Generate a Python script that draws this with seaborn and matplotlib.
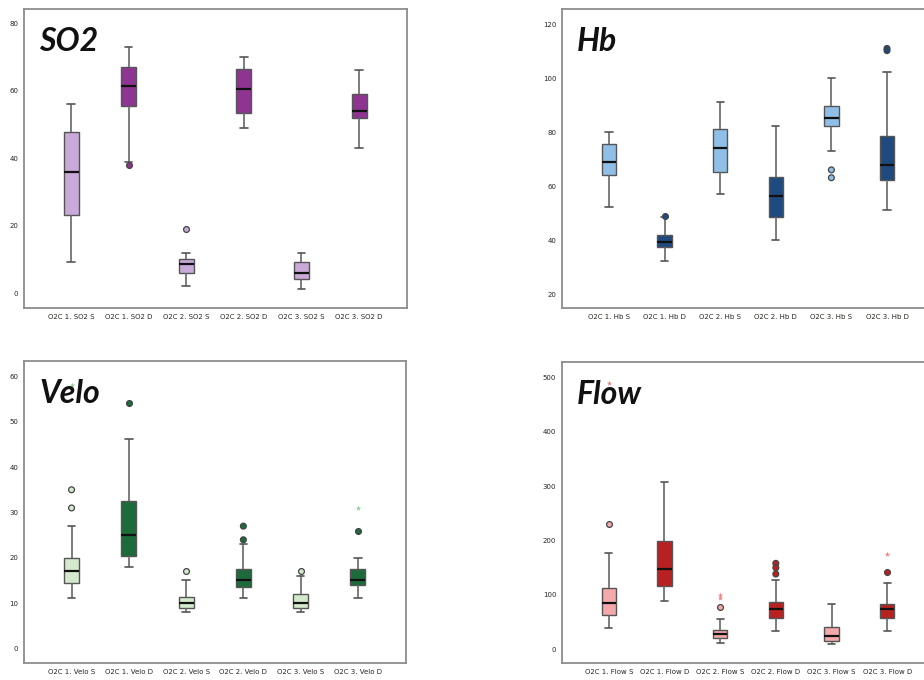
import matplotlib
matplotlib.use("Agg")
import matplotlib.pyplot as plt
import seaborn as sns
import pandas as pd

# ---------------- data ----------------
so2_cats = ["O2C 1. SO2 S", "O2C 1. SO2 D", "O2C 2. SO2 S", "O2C 2. SO2 D", "O2C 3. SO2 S", "O2C 3. SO2 D"]
so2_lo = [9.1, 38.9, 2.2, 49.0, 1.2, 43.1]
so2_q1 = [23.1, 55.5, 6.1, 53.5, 4.1, 52.0]
so2_med = [36.0, 61.4, 8.7, 60.4, 6.1, 53.9]
so2_q3 = [47.9, 66.9, 10.1, 66.4, 9.1, 58.9]
so2_hi = [56.0, 72.9, 12.0, 69.9, 12.0, 66.0]
so2_out_idx = [1, 2]
so2_out_val = [38.0, 19.0]
so2_star_idx = []
so2_star_val = []

hb_cats = ["O2C 1. Hb S", "O2C 1. Hb D", "O2C 2. Hb S", "O2C 2. Hb D", "O2C 3. Hb S", "O2C 3. Hb D"]
hb_lo = [52.1, 32.1, 57.2, 40.1, 73.1, 51.1]
hb_q1 = [64.2, 37.5, 65.1, 48.5, 82.1, 62.1]
hb_med = [69.1, 39.3, 74.1, 56.5, 85.2, 67.7]
hb_q3 = [75.6, 42.0, 81.1, 63.5, 89.5, 78.5]
hb_hi = [80.0, 48.4, 91.1, 82.1, 100.1, 102.2]
hb_out_idx = [1, 4, 4, 5, 5]
hb_out_val = [49.0, 66.0, 63.1, 111.0, 110.2]
hb_star_idx = []
hb_star_val = []

velo_cats = ["O2C 1. Velo S", "O2C 1. Velo D", "O2C 2. Velo S", "O2C 2. Velo D", "O2C 3. Velo S", "O2C 3. Velo D"]
velo_lo = [11.1, 18.0, 8.1, 11.1, 8.1, 11.1]
velo_q1 = [14.5, 20.5, 9.0, 13.6, 9.0, 14.0]
velo_med = [17.1, 25.1, 10.1, 15.2, 10.1, 15.2]
velo_q3 = [19.9, 32.5, 11.5, 17.5, 12.0, 17.5]
velo_hi = [27.0, 46.1, 15.1, 23.1, 16.0, 20.0]
velo_out_idx = [0, 0, 1, 2, 3, 3, 4, 5]
velo_out_val = [31.0, 35.0, 54.0, 17.1, 27.0, 24.0, 17.1, 26.0]
velo_star_idx = [0, 5]
velo_star_val = [58.0, 31.0]

flow_cats = ["O2C 1. Flow S", "O2C 1. Flow D", "O2C 2. Flow S", "O2C 2. Flow D", "O2C 3. Flow S", "O2C 3. Flow D"]
flow_lo = [38.6, 88.8, 11.0, 33.1, 9.8, 33.1]
flow_q1 = [63.1, 116.4, 20.2, 57.0, 14.7, 58.2]
flow_med = [85.2, 147.7, 27.6, 73.5, 24.5, 73.5]
flow_q3 = [112.1, 198.5, 36.2, 87.0, 41.7, 83.3]
flow_hi = [177.7, 308.2, 55.1, 126.8, 82.7, 122.5]
flow_out_idx = [0, 2, 3, 3, 3, 5]
flow_out_val = [229.8, 78.4, 158.1, 150.1, 138.5, 142.2]
flow_star_idx = [0, 2, 2, 5]
flow_star_val = [490.0, 99.9, 95.0, 175.2]

# ---------------- styling ----------------
sns.set_theme(style="white")
plt.rcParams["font.family"] = ["DejaVu Sans"]

fig = plt.figure(figsize=(9.24, 6.8), dpi=100)

SPINE = "#8c8c8c"
EDGE = "#555555"


def draw_panel(rect, title, cats, lo, q1, med, q3, hi, out_idx, out_val,
               star_idx, star_val, light, dark, star_col, ylim, yticks, xlim):
    ax = fig.add_axes(rect)
    rows = []
    for c, a, b, m, d, e in zip(cats, lo, q1, med, q3, hi):
        for v in (a, b, m, d, e):
            rows.append({"cat": c, "value": v})
    df = pd.DataFrame(rows)
    pal = {c: (light if i % 2 == 0 else dark) for i, c in enumerate(cats)}
    sns.boxplot(data=df, x="cat", y="value", hue="cat", order=cats,
                hue_order=cats, palette=pal, saturation=1, whis=(0, 100),
                width=0.26, linecolor=EDGE, linewidth=1.0, showfliers=False,
                medianprops=dict(color="#111111", linewidth=1.6),
                whiskerprops=dict(color="#666666", linewidth=1.2),
                capprops=dict(color="#555555", linewidth=1.2),
                legend=False, ax=ax)
    if star_idx:
        sdf = pd.DataFrame({"cat": [cats[i] for i in star_idx], "value": star_val})
        sns.stripplot(data=sdf, x="cat", y="value", order=cats, jitter=False,
                      marker="*", size=4.0, color=star_col, linewidth=0,
                      legend=False, ax=ax, zorder=1)
    if out_idx:
        odf = pd.DataFrame({"cat": [cats[i] for i in out_idx], "value": out_val})
        sns.stripplot(data=odf, x="cat", y="value", hue="cat", order=cats,
                      hue_order=cats, palette=pal, jitter=False, size=4.2,
                      linewidth=0.9, edgecolor="#444444", legend=False, ax=ax,
                      zorder=5)
    ax.set_xlim(*xlim)
    ax.set_ylim(*ylim)
    ax.set_yticks(yticks)
    ax.set_xlabel("")
    ax.set_ylabel("")
    ax.tick_params(axis="both", which="both", labelsize=5.0, colors="#2a2420",
                   length=2.6, width=0.8, direction="out", pad=1.5)
    ax.tick_params(axis="both", color="#555555")
    ax.set_xticks(range(len(cats)))
    ax.set_xticklabels(cats)
    for s in ax.spines.values():
        s.set_visible(True)
        s.set_color(SPINE)
        s.set_linewidth(1.3)
    ax.text(0.04, 0.86, title, transform=ax.transAxes, fontsize=23,
            fontweight="bold", fontstyle="italic", family=["Lato", "DejaVu Sans"],
            color="#111111", va="baseline", ha="left", zorder=10)
    return ax


draw_panel([0.026, 0.547, 0.4145, 0.4397], "SO2", so2_cats, so2_lo, so2_q1, so2_med,
           so2_q3, so2_hi, so2_out_idx, so2_out_val, so2_star_idx, so2_star_val,
           "#C9A9D8", "#8E3592", "#C9A9D8", (-4.4, 84.2), [0, 20, 40, 60, 80],
           (-0.816, 5.833))

draw_panel([0.6082, 0.547, 0.4026, 0.4397], "Hb", hb_cats, hb_lo, hb_q1, hb_med,
           hb_q3, hb_hi, hb_out_idx, hb_out_val, hb_star_idx, hb_star_val,
           "#8FBFE6", "#1F4A80", "#8FBFE6", (14.8, 125.6), [20, 40, 60, 80, 100, 120],
           (-0.845, 5.845))

draw_panel([0.026, 0.025, 0.4134, 0.444], "Velo", velo_cats, velo_lo, velo_q1, velo_med,
           velo_q3, velo_hi, velo_out_idx, velo_out_val, velo_star_idx, velo_star_val,
           "#D5EACD", "#1D6B3A", "#8CCB9A", (-3.1, 63.3), [0, 10, 20, 30, 40, 50, 60],
           (-0.83, 5.84))

draw_panel([0.6082, 0.025, 0.4026, 0.4426], "Flow", flow_cats, flow_lo, flow_q1, flow_med,
           flow_q3, flow_hi, flow_out_idx, flow_out_val, flow_star_idx, flow_star_val,
           "#F4A9AB", "#B8211F", "#F08080", (-25, 528), [0, 100, 200, 300, 400, 500],
           (-0.84, 5.84))

fig.savefig("out.png", dpi=100)
